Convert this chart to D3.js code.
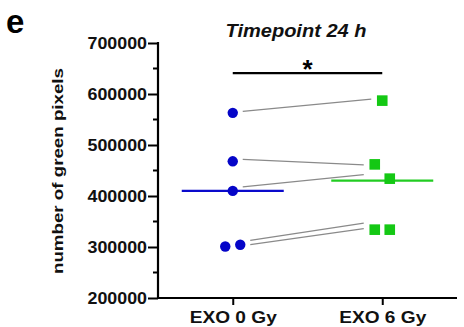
<!DOCTYPE html>
<html><head><meta charset="utf-8">
<script src="https://cdn.jsdelivr.net/npm/d3@7"></script>
<style>html,body{margin:0;padding:0;background:#fff;}svg{display:block;font-family:"Liberation Sans",Arial,sans-serif;}</style>
</head><body><svg id="c" width="464" height="327"></svg>
<script>
const categories = ["EXO 0 Gy", "EXO 6 Gy"];
const exo0 = [563000, 468000, 410000, 301000, 304500];
const exo6 = [587000, 462000, 434000, 334000, 334000];
const medians = [410000, 430000];
const pairStart = [566000, 472000, 418000, 313000, 304500];
const pairEnd = [590000, 461000, 442000, 347000, 336000];
const yTicks = [200000, 300000, 400000, 500000, 600000, 700000];
const yMinor = [250000, 350000, 450000, 550000, 650000];
const sigLevel = 641000;
const title = "Timepoint 24 h";
const yTitle = "number of green pixels";
const panel = "e";

const svg = d3.select("#c");
const x = d3.scalePoint().domain(categories).range([158, 457]).padding(0.5);
const y = d3.scaleLinear().domain([200000, 700000]).range([298, 43]);

function jitter(vals){
  const idx = vals.map((v,i)=>i).sort((a,b)=>vals[b]-vals[a]);
  const off = vals.map(()=>0);
  let cl=[idx[0]];
  const flush=()=>{ if(cl.length>1){ const s=[...cl].sort((a,b)=>a-b); s.forEach((k,j)=>off[k]=(j-(s.length-1)/2)*15);} };
  for(let i=1;i<idx.length;i++){
    if(Math.abs(y(vals[idx[i]])-y(vals[idx[i-1]]))<15) cl.push(idx[i]); else {flush(); cl=[idx[i]];}
  }
  flush();
  return off;
}
const j0 = jitter(exo0), j1 = jitter(exo6);

const yAxis = d3.axisLeft(y).tickValues(yTicks).tickSize(10).tickFormat(d3.format("d"));
const gy = svg.append("g").attr("transform","translate(158,0)").call(yAxis);
gy.select(".domain").attr("stroke","#000").attr("stroke-width",2.2).attr("d","M0,42V299");
gy.selectAll(".tick line").attr("stroke","#000").attr("stroke-width",2);
gy.selectAll(".tick text").attr("font-size",16.5).attr("font-weight","bold").attr("fill","#111")
  .attr("x",-11).attr("dy","0.36em").attr("textLength",59.5).attr("lengthAdjust","spacingAndGlyphs");
svg.append("g").selectAll("line").data(yMinor).join("line")
  .attr("x1",153).attr("x2",158).attr("y1",d=>y(d)).attr("y2",d=>y(d)).attr("stroke","#000").attr("stroke-width",2);

const xAxis = d3.axisBottom(x).tickSize(7);
const gx = svg.append("g").attr("transform","translate(0,298)").call(xAxis);
gx.select(".domain").attr("stroke","#000").attr("stroke-width",2.2).attr("d","M157,0H457");
gx.selectAll(".tick line").attr("stroke","#000").attr("stroke-width",2);
gx.selectAll(".tick text").attr("font-size",16.5).attr("font-weight","bold").attr("fill","#111")
  .attr("y",25).attr("dy",0).attr("textLength",87).attr("lengthAdjust","spacingAndGlyphs");

svg.append("text").attr("transform",`translate(63,171) rotate(-90)`).attr("text-anchor","middle")
  .attr("font-size",15).attr("font-weight","bold").attr("fill","#111")
  .attr("textLength",206).attr("lengthAdjust","spacingAndGlyphs").text(yTitle);

svg.append("text").attr("x",6).attr("y",33).attr("font-size",33).attr("font-weight","bold").attr("fill","#000").text(panel);

svg.append("text").attr("x",296).attr("y",37).attr("text-anchor","middle").attr("font-size",18)
  .attr("font-weight","bold").attr("font-style","italic").attr("fill","#111")
  .attr("textLength",141).attr("lengthAdjust","spacingAndGlyphs").text(title);

svg.append("line").attr("x1",x(categories[0])).attr("x2",x(categories[1])).attr("y1",y(sigLevel)).attr("y2",y(sigLevel))
  .attr("stroke","#000").attr("stroke-width",2.2);
svg.append("text").attr("x",(x(categories[0])+x(categories[1]))/2).attr("y",y(sigLevel)+5).attr("text-anchor","middle")
  .attr("font-size",26).attr("font-weight","bold").attr("fill","#000").text("*");

const xs0 = exo0.map((v,i)=>x(categories[0])+j0[i]);
const xs1 = exo6.map((v,i)=>x(categories[1])+j1[i]);
function clusterMaxX(xs, vals, i){
  return d3.max(xs.filter((_,k)=>Math.abs(y(vals[k])-y(vals[i]))<15));
}
function clusterMinX(xs, vals, i){
  return d3.min(xs.filter((_,k)=>Math.abs(y(vals[k])-y(vals[i]))<15));
}
svg.append("g").selectAll("line").data(pairStart).join("line")
  .attr("x1",(d,i)=>clusterMaxX(xs0,exo0,i)+10)
  .attr("x2",(d,i)=>clusterMinX(xs1,exo6,i)-11)
  .attr("y1",d=>y(d)).attr("y2",(d,i)=>y(pairEnd[i]))
  .attr("stroke","#8a8a8a").attr("stroke-width",1.3);

const mcol = ["#0a0acc", "#22cc22"];
svg.append("g").selectAll("line").data(medians).join("line")
  .attr("x1",(d,i)=>x(categories[i])-51).attr("x2",(d,i)=>x(categories[i])+51)
  .attr("y1",d=>y(d)).attr("y2",d=>y(d)).attr("stroke",(d,i)=>mcol[i]).attr("stroke-width",2.2);

svg.append("g").selectAll("circle").data(exo0).join("circle")
  .attr("cx",(d,i)=>xs0[i]).attr("cy",d=>y(d)).attr("r",5.2).attr("fill","#0505c8");
svg.append("g").selectAll("rect").data(exo6).join("rect")
  .attr("x",(d,i)=>xs1[i]-5.3).attr("y",d=>y(d)-5.3).attr("width",10.6).attr("height",10.6).attr("fill","#14c814");
</script></body></html>
